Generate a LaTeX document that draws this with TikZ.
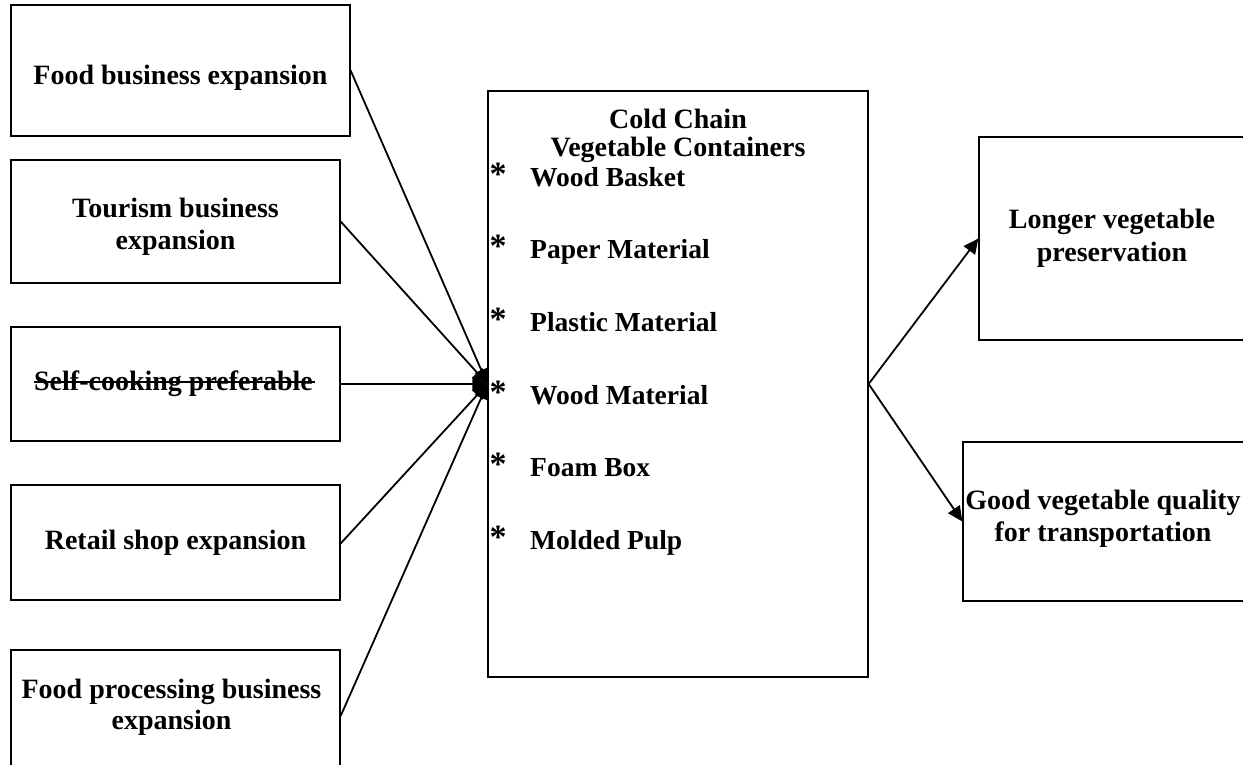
\documentclass[tikz,border=0pt]{standalone}
\usepackage{fontspec}
\setmainfont{Liberation Serif}
\usetikzlibrary{arrows.meta}
\begin{document}
\begin{tikzpicture}[x=1pt,y=-1pt,
  txt/.style={font=\bfseries\fontsize{28}{31}\selectfont, anchor=base, inner sep=0pt},
  box/.style={draw, line width=1.3pt, inner sep=0pt},
  item/.style={font=\bfseries\fontsize{27.5}{31}\selectfont, anchor=base west, inner sep=0pt},
  star/.style={font=\bfseries\fontsize{34}{31}\selectfont, inner sep=0pt},
  conn/.style={line width=1.8pt, -{Triangle[length=15pt,width=14pt]}}]
\useasboundingbox (0,0) rectangle (1243,765);
\clip (0,0) rectangle (1243,765);
% left boxes
\node[box, minimum width=339pt, minimum height=131pt] (b1) at (180.5,70.5) {};
\node[txt] (b1t) at (180.5,85) {Food business expansion};
\node[box, minimum width=329pt, minimum height=123pt] (b2) at (175.5,221.5) {};
\node[txt] (b2t) at (175.5,218) {Tourism business};
\node[txt] (b2u) at (175.5,249) {expansion};
\node[box, minimum width=329pt, minimum height=114pt] (b3) at (175.5,384) {};
\node[txt] (b3t) at (173.5,390) {Self-cooking preferable};
\draw[line width=1.7pt] ([yshift=8pt]b3t.base west) -- ([xshift=2pt,yshift=8pt]b3t.base east);
\node[box, minimum width=329pt, minimum height=115pt] (b4) at (175.5,542.5) {};
\node[txt] (b4t) at (175.5,549) {Retail shop expansion};
\node[box, minimum width=329pt, minimum height=122pt] (b5) at (175.5,711) {};
\node[txt] (b5t) at (171.5,698) {Food processing business};
\node[txt] (b5u) at (171.5,729) {expansion};
% center box
\node[box, minimum width=380pt, minimum height=586pt] (c) at (678,384) {};
\node[txt] (t1) at (678,129) {Cold Chain};
\node[txt] (t2) at (678,157) {Vegetable Containers};
\node[star] (s1) at (498,174) {*};
\node[item] (i1) at (530,186) {Wood Basket};
\node[star] (s2) at (498,246.5) {*};
\node[item] (i2) at (530,258.5) {Paper Material};
\node[star] (s3) at (498,319) {*};
\node[item] (i3) at (530,331) {Plastic Material};
\node[star] (s4) at (498,392) {*};
\node[item] (i4) at (530,404) {Wood Material};
\node[star] (s5) at (498,464.5) {*};
\node[item] (i5) at (530,476.5) {Foam Box};
\node[star] (s6) at (498,537) {*};
\node[item] (i6) at (530,549) {Molded Pulp};
% right boxes
\node[box, minimum width=266pt, minimum height=203pt] (r1) at (1112,238.5) {};
\node[txt] (r1t) at (1112,229) {Longer vegetable};
\node[txt] (r1u) at (1112,261) {preservation};
\node[box, minimum width=284pt, minimum height=159pt] (r2) at (1105,521.5) {};
\node[txt] (r2t) at (1103,509) {Good vegetable quality};
\node[txt] (r2u) at (1103,541) {for transportation};
% connectors
\draw[conn] (b1.east) -- (c.west);
\draw[conn] (b2.east) -- (c.west);
\draw[conn] (b3.east) -- (c.west);
\draw[conn] ([yshift=-1pt]b4.east) -- (c.west);
\draw[conn] ([yshift=-5pt]b5.east) -- (c.west);
\draw[conn] (c.east) -- (r1.west);
\draw[conn] (c.east) -- (r2.west);
\end{tikzpicture}
\end{document}
